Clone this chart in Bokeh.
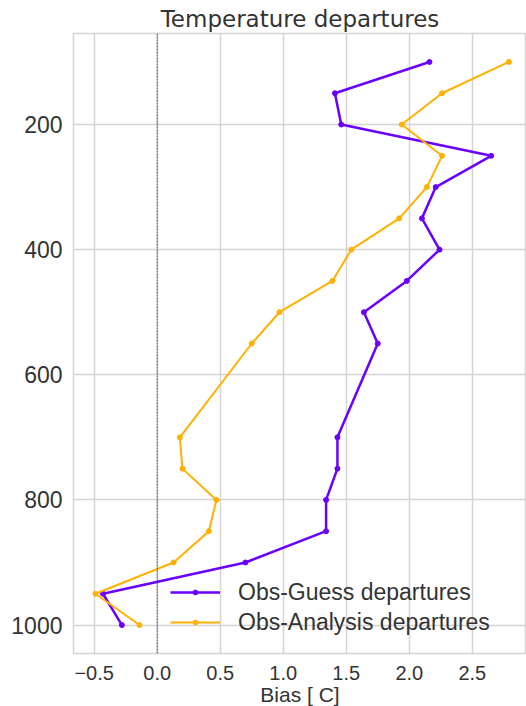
from bokeh.plotting import figure
from bokeh.models import Range1d, FixedTicker, Legend, LegendItem, Span
from bokeh.embed import file_html
from bokeh.resources import INLINE

levels = [100, 150, 200, 250, 300, 350, 400, 450, 500, 550, 700, 750, 800, 850, 900, 950, 1000]
obs_guess = [2.16, 1.41, 1.46, 2.65, 2.21, 2.10, 2.24, 1.98, 1.64, 1.75, 1.43, 1.43, 1.34, 1.34, 0.70, -0.43, -0.28]
obs_analysis = [2.79, 2.26, 1.94, 2.26, 2.14, 1.92, 1.54, 1.39, 0.97, 0.75, 0.18, 0.20, 0.47, 0.41, 0.13, -0.49, -0.14]
x_ticks = [-0.5, 0.0, 0.5, 1.0, 1.5, 2.0, 2.5]
x_tick_labels = ["\u22120.5", "0.0", "0.5", "1.0", "1.5", "2.0", "2.5"]
y_ticks = [200, 400, 600, 800, 1000]
series_names = ["Obs-Guess departures", "Obs-Analysis departures"]
colors = ["#6a00ff", "#ffb000"]

p = figure(
    frame_width=453, frame_height=620,
    output_backend="svg", toolbar_location=None,
    x_range=Range1d(-0.664, 2.93), y_range=Range1d(1045.5, 54.5),
    min_border_left=73, min_border_right=0, min_border_top=33, min_border_bottom=53,
    background_fill_color="white", border_fill_color="white",
)

p.title.text = "Temperature departures"
p.title.text_font = "DejaVu Sans"
p.title.text_font_size = "23px"
p.title.text_font_style = "normal"
p.title.text_color = "#333333"
p.title.align = "center"
p.title.standoff = 4
p.title.offset = 0

p.outline_line_color = "#d4d4d4"
p.outline_line_width = 1.5

for ax in (p.xaxis[0], p.yaxis[0]):
    ax.axis_line_color = None
    ax.major_tick_line_color = None
    ax.minor_tick_line_color = None
    ax.major_label_text_font = "Liberation Sans"
    ax.major_label_text_color = "#333333"

p.xaxis.ticker = FixedTicker(ticks=x_ticks)
p.xaxis.major_label_overrides = {t: l for t, l in zip(x_ticks, x_tick_labels)}
p.xaxis.major_label_text_font_size = "20px"
p.xaxis.major_label_standoff = 6
p.xaxis.axis_label = "Bias [ C]"
p.xaxis.axis_label_text_font = "Liberation Sans"
p.xaxis.axis_label_text_font_size = "21px"
p.xaxis.axis_label_text_font_style = "normal"
p.xaxis.axis_label_text_color = "#333333"
p.xaxis.axis_label_standoff = 0

p.yaxis.ticker = FixedTicker(ticks=y_ticks)
p.yaxis.major_label_text_font_size = "23px"
p.yaxis.major_label_standoff = 5

p.xgrid.ticker = FixedTicker(ticks=x_ticks)
p.ygrid.ticker = FixedTicker(ticks=y_ticks)
for g in (p.xgrid[0], p.ygrid[0]):
    g.grid_line_color = "#d4d4d4"
    g.grid_line_width = 1.5

zero = Span(location=0, dimension="height", line_color="#555555", line_width=1, line_dash="2 1")
p.add_layout(zero)

items = []
for vals, name, col, lw in zip([obs_guess, obs_analysis], series_names, colors, [2.5, 2.0]):
    r1 = p.line(vals, levels, line_color=col, line_width=lw)
    r2 = p.scatter(vals, levels, size=5, fill_color=col, line_color=col)
    items.append(LegendItem(label=name, renderers=[r1, r2]))

legend = Legend(
    items=items, location=(97, 16),
    background_fill_alpha=0, border_line_color=None,
    label_text_font="Liberation Sans", label_text_font_size="23px",
    label_text_color="#333333",
    glyph_width=50, glyph_height=12, label_height=30, spacing=0,
    label_standoff=18, padding=0, margin=0,
)
p.add_layout(legend)

open("out.html", "w").write(file_html(p, INLINE))
